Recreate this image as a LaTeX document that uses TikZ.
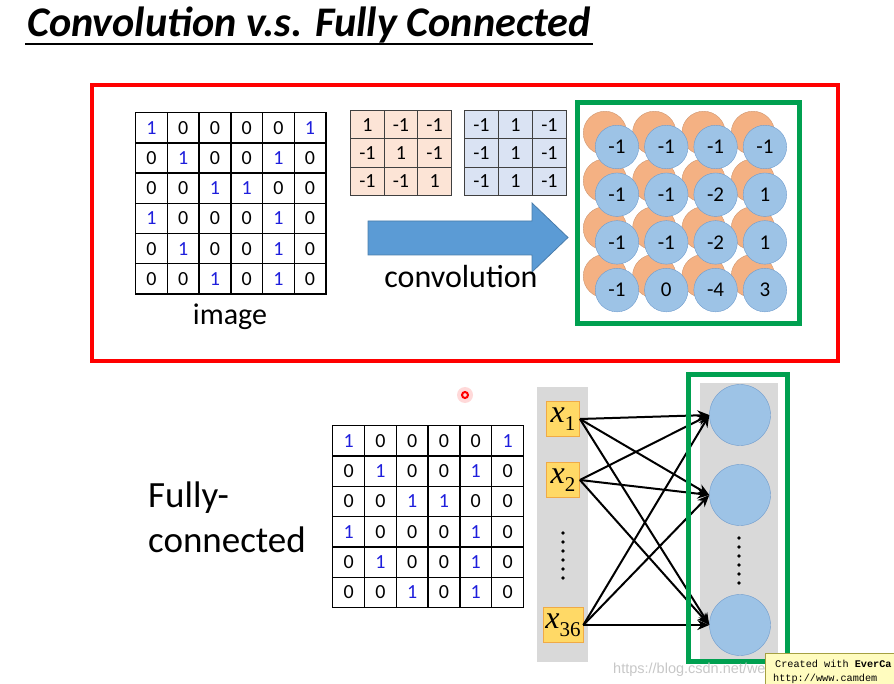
\documentclass[tikz,border=0pt]{standalone}
\usepackage{fontspec}
\setmainfont{Carlito}
\newfontfamily\timesfont{Liberation Serif}
\newfontfamily\wmfont{Liberation Sans}
\newfontfamily\evermono{Liberation Mono}
\usetikzlibrary{arrows.meta}

\definecolor{convgreen}{RGB}{0,160,80}
\definecolor{featblue}{RGB}{157,195,230}
\definecolor{featedge}{RGB}{110,155,205}
\definecolor{featorange}{RGB}{244,177,131}
\definecolor{filtorange}{RGB}{252,228,214}
\definecolor{filtblue}{RGB}{218,227,243}
\definecolor{oneblue}{RGB}{30,30,220}
\definecolor{colgray}{RGB}{217,217,217}
\definecolor{xyellow}{RGB}{255,217,102}
\definecolor{xedge}{RGB}{240,170,70}
\definecolor{arrowblue}{RGB}{91,155,213}

\newcommand{\binrows}{{1,0,0,0,0,1},{0,1,0,0,1,0},{0,0,1,1,0,0},{1,0,0,0,1,0},{0,1,0,0,1,0},{0,0,1,0,1,0}}
\newcommand{\xin}[1]{{\timesfont\itshape x}\raisebox{-8pt}{\timesfont\fontsize{21}{21}\selectfont #1}}

\begin{document}
\begin{tikzpicture}[x=1pt,y=-1pt,
    imgcell/.style={draw,line width=1.4pt,minimum width=31.7pt,minimum height=30.2pt,
      inner sep=0pt,anchor=north west,font=\fontsize{20}{20}\selectfont},
    filtcell/.style={draw=black!75,line width=1.2pt,minimum width=33.6pt,minimum height=28.3pt,
      inner sep=0pt,anchor=north west,font=\fontsize{20}{20}\selectfont},
    featback/.style={circle,fill=featorange,draw=featorange!85!black,minimum size=43.5pt,inner sep=0pt},
    featfront/.style={circle,fill=featblue,draw=featedge,minimum size=43.5pt,inner sep=0pt,
      font=\fontsize{21}{21}\selectfont},
    xbox/.style={fill=xyellow,draw=xedge,line width=0.8pt,minimum width=33pt,minimum height=35pt,
      inner sep=0pt,font=\fontsize{32}{32}\selectfont},
    neuron/.style={circle,fill=featblue,draw=featedge,minimum size=61pt,inner sep=0pt},
    conn/.style={-{Stealth[length=12pt,width=10pt]},line width=2pt}]
  \useasboundingbox (0,0) rectangle (894,684);

  % title
  \node[anchor=base west,inner sep=0pt,font=\fontsize{42.2}{42.2}\selectfont\bfseries\itshape]
    (title) at (27,37) {Convolution v.s. Fully Connected};
  \draw[line width=2pt] ([xshift=-2pt]title.south west) -- ([xshift=2pt]title.south east);

  % convolution part
  \draw[red,line width=4pt] (92,85) rectangle (838,361);

  \foreach \row [count=\i] in \binrows
    \foreach \v [count=\j] in \row
      \node[imgcell] (img-\i-\j) at ({135+31.7*(\j-1)},{112+30.2*(\i-1)})
        {\ifnum\v=1 \color{oneblue}\fi\v};
  \node[anchor=base,font=\fontsize{30}{30}\selectfont] (imglabel) at (230,325) {image};

  \foreach \row [count=\i] in {{1,-1,-1},{-1,1,-1},{-1,-1,1}}
    \foreach \v [count=\j] in \row
      \node[filtcell,fill=filtorange] (fa-\i-\j) at ({350+33.6*(\j-1)},{110+28.3*(\i-1)}) {\v};
  \foreach \row [count=\i] in {{-1,1,-1},{-1,1,-1},{-1,1,-1}}
    \foreach \v [count=\j] in \row
      \node[filtcell,fill=filtblue] (fb-\i-\j) at ({464+34*(\j-1)},{110+28.3*(\i-1)}) {\v};

  \filldraw[fill=arrowblue,draw=arrowblue!80!black,line width=0.8pt]
    (368,221) -- (532,221) -- (532,203) -- (568,237.5) -- (532,272) -- (532,255) -- (368,255) -- cycle;
  \node[anchor=base,font=\fontsize{32}{32}\selectfont] (convlabel) at (461,288) {convolution};

  \foreach \i in {1,...,4}
    \foreach \j in {1,...,4}
      \node[featback] (back-\i-\j) at ({605+49.3*(\j-1)},{133+47.7*(\i-1)}) {};
  \foreach \row [count=\i] in {{-1,-1,-1,-1},{-1,-1,-2,1},{-1,-1,-2,1},{-1,0,-4,3}}
    \foreach \v [count=\j] in \row
      \node[featfront] (feat-\i-\j) at ({617+49.3*(\j-1)},{147+47.7*(\i-1)}) {\v};
  \draw[convgreen,line width=5pt] (577,103) rectangle (799,324);

  % fully connected part
  \node[anchor=base west,inner sep=0pt,font=\fontsize{37}{37}\selectfont] (fully) at (148,507) {Fully-};
  \node[anchor=base west,inner sep=0pt,font=\fontsize{37}{37}\selectfont] (connected) at (148,552) {connected};

  \foreach \row [count=\i] in \binrows
    \foreach \v [count=\j] in \row
      \node[imgcell,minimum width=31.8pt,minimum height=30.3pt] (fc-\i-\j)
        at ({332+31.8*(\j-1)},{425+30.3*(\i-1)}) {\ifnum\v=1 \color{oneblue}\fi\v};

  \fill[colgray] (537,387) rectangle (588,662);
  \fill[colgray] (700,383) rectangle (778,662);

  \node[xbox] (x1) at (563,419) {\xin{1}};
  \node[xbox] (x2) at (563,480) {\xin{2}};
  \node[xbox,minimum width=40pt] (x36) at (563,625) {\xin{36}};
  \foreach \k in {0,...,5}
    \fill (563,{533+9*\k}) circle (1.8pt);

  \node[neuron] (n1) at (740,415) {};
  \node[neuron] (n2) at (740,495) {};
  \node[neuron] (n3) at (740,625) {};
  \foreach \k in {0,...,5}
    \fill (739,{538+9*\k}) circle (1.8pt);

  \foreach \a in {x1,x2,x36}
    \foreach \b in {n1,n2,n3}
      \draw[conn] (\a.east) -- (\b.west);

  \draw[convgreen,line width=5pt] (688,375) rectangle (787,661);

  % cursor and screen-capture marks
  \fill[red!15] (465,395) circle (8pt);
  \draw[red,line width=2pt] (465,395) circle (3pt);
  \node[anchor=base west,inner sep=0pt,text=black!22,font=\wmfont\fontsize{14.5}{14.5}\selectfont]
    (wmark) at (613,673) {https://blog.csdn.net/we};
  \node[anchor=north west,inner sep=0pt,minimum width=129pt,minimum height=31pt,
    fill=yellow!25,draw=yellow!60!black,line width=0.6pt] (evercam) at (765,653) {};
  \node[anchor=base west,inner sep=0pt,font=\evermono\fontsize{10.2}{10.2}\selectfont]
    (evertext) at (775,667) {Created with \textbf{EverCa}};
  \node[anchor=base west,inner sep=0pt,font=\evermono\fontsize{10.2}{10.2}\selectfont]
    (everurl) at (773,681) {http://www.camdem};
\end{tikzpicture}
\end{document}
